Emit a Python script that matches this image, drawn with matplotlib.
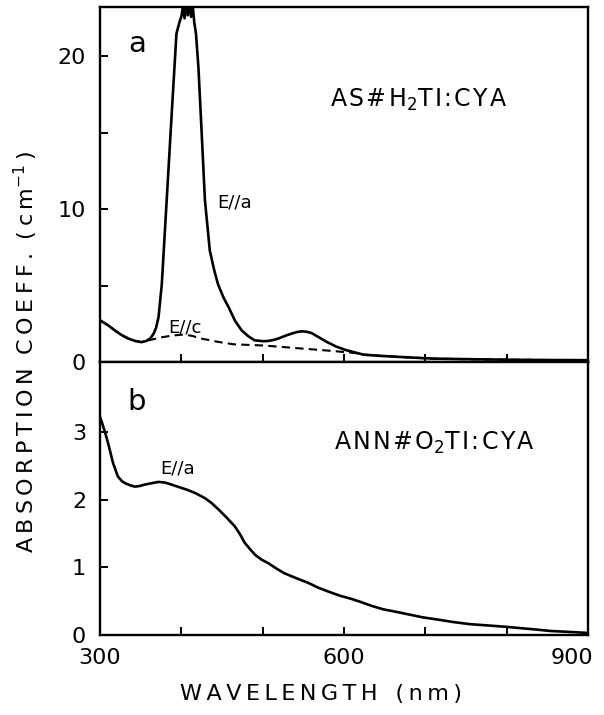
import matplotlib
matplotlib.use("Agg")
import matplotlib.pyplot as plt
import matplotlib.transforms as mtransforms

# ---------------- data ----------------
top_wl = [300, 310, 318, 326, 335, 343, 351, 357, 362, 366, 369, 372, 376, 382,
          388, 394, 398, 400, 402, 404, 406, 408, 410, 412, 414, 416, 418, 421,
          425, 429, 435, 440, 445, 452, 458, 466, 474, 482, 490, 501, 507, 514,
          520, 528, 535, 542, 548, 554, 560, 569, 579, 590, 603, 624, 645, 669,
          710, 760, 800, 850, 900]
top_a = [2.73, 2.40, 2.08, 1.78, 1.53, 1.38, 1.30, 1.38, 1.55, 1.86, 2.25, 2.95,
         5.1, 10.6, 16.1, 21.5, 22.3, 22.6, 23.3, 22.5, 23.4, 22.7, 23.5, 22.6,
         23.3, 22.2, 21.5, 19.3, 15.0, 10.6, 7.3, 6.1, 5.1, 4.2, 3.6, 2.7, 2.08,
         1.70, 1.42, 1.36, 1.38, 1.45, 1.55, 1.72, 1.85, 1.96, 2.01, 1.98, 1.90,
         1.62, 1.31, 1.02, 0.77, 0.48, 0.40, 0.33, 0.22, 0.18, 0.15, 0.13, 0.12]

top_c_wl = [300, 310, 318, 326, 335, 343, 351, 362, 376, 390, 404, 414, 423,
            445, 464, 482, 501, 525, 548, 575, 599, 615, 624, 645, 669, 710,
            760, 800, 850, 900]
top_c = [2.73, 2.40, 2.08, 1.78, 1.53, 1.38, 1.30, 1.45, 1.62, 1.74, 1.80, 1.70,
         1.55, 1.32, 1.16, 1.12, 1.08, 0.98, 0.88, 0.77, 0.66, 0.58, 0.48, 0.40,
         0.33, 0.22, 0.18, 0.15, 0.13, 0.12]

bot_wl = [300, 302, 306, 310, 316, 322, 327, 331, 337, 343, 349, 355, 363, 372,
          380, 388, 398, 408, 418, 429, 437, 446, 456, 466, 472, 478, 485, 491,
          499, 507, 517, 527, 541, 556, 568, 581, 595, 610, 620, 634, 648, 665,
          681, 697, 714, 735, 755, 778, 800, 818, 837, 853, 870, 886, 900]
bot_a = [3.22, 3.15, 3.00, 2.83, 2.54, 2.34, 2.27, 2.24, 2.21, 2.19, 2.20, 2.22,
         2.24, 2.26, 2.25, 2.22, 2.18, 2.14, 2.09, 2.02, 1.95, 1.85, 1.73, 1.60,
         1.49, 1.36, 1.26, 1.18, 1.11, 1.06, 0.98, 0.91, 0.84, 0.77, 0.70, 0.64,
         0.58, 0.53, 0.49, 0.43, 0.38, 0.34, 0.30, 0.26, 0.23, 0.19, 0.16, 0.14,
         0.12, 0.10, 0.08, 0.06, 0.05, 0.04, 0.03]

x_major = [300, 600, 900]
x_minor = [400, 500, 700, 800]
top_yticks = [0, 10, 20]
top_yminor = [5, 15]
bot_yticks = [0, 1, 2, 3]

# ---------------- figure ----------------
plt.rcParams['font.family'] = ['DejaVu Sans']
plt.rcParams['mathtext.fontset'] = 'custom'
plt.rcParams['mathtext.rm'] = 'DejaVu Sans'
plt.rcParams['mathtext.it'] = 'DejaVu Sans'
plt.rcParams['mathtext.bf'] = 'DejaVu Sans'

fig = plt.figure(figsize=(6.04, 7.15), dpi=100)
L, W = 100 / 604, 488 / 604
ax1 = fig.add_axes([L, 1 - 362 / 715, W, 355 / 715])
ax2 = fig.add_axes([L, 1 - 635 / 715, W, 273 / 715])

lw = 1.9
ax1.plot(top_wl, top_a, color='black', lw=lw, solid_joinstyle='round')
ax1.plot(top_c_wl, top_c, color='black', lw=1.5, ls=(0, (4, 2.5)))
ax2.plot(bot_wl, bot_a, color='black', lw=lw, solid_joinstyle='round')

ax1.set_xlim(300, 900)
ax1.set_ylim(0, 23.24)
ax2.set_xlim(300, 900)
ax2.set_ylim(0, 4.03)

for ax in (ax1, ax2):
    for s in ax.spines.values():
        s.set_linewidth(1.7)
    ax.set_xticks(x_major)
    ax.set_xticks(x_minor, minor=True)
    ax.tick_params(axis='both', which='both', direction='in', length=6,
                   width=1.4, labelsize=16)
    ax.tick_params(axis='x', pad=9)
    ax.tick_params(axis='y', pad=10)

ax1.set_yticks(top_yticks)
ax1.set_yticks(top_yminor, minor=True)
ax1.set_xticklabels([])
ax2.set_yticks(bot_yticks)
ax2.set_xticklabels([str(v) for v in x_major])

# shift the 900 label left so it fits the figure
offset = mtransforms.ScaledTranslation(-16 / 100, 0, fig.dpi_scale_trans)
lab900 = ax2.get_xticklabels()[-1]
lab900.set_transform(lab900.get_transform() + offset)

# ---------------- annotations ----------------
ax1.text(346, 20.8, 'a', fontsize=21, ha='center', va='center')
ax2.text(345, 3.44, 'b', fontsize=21, ha='center', va='center')

hs = '\u200a'
ax1.text(692, 16.7, hs.join('AS#H') + r'$_2$' + hs.join('TI:CYA'),
         fontsize=17, ha='center', va='baseline')
ax2.text(711, 2.73, hs.join('ANN#O') + r'$_2$' + hs.join('TI:CYA'),
         fontsize=17, ha='center', va='baseline')

ax1.text(444, 10.1, 'E//a', fontsize=13, ha='left', va='baseline')
ax1.text(384, 1.95, 'E//c', fontsize=13, ha='left', va='baseline')
ax2.text(374, 2.38, 'E//a', fontsize=13, ha='left', va='baseline')

ts = '\u2009'
ylab = ts.join('ABSORPTION') + ts * 3 + ts.join('COEFF.') + ts * 3 + ts.join('(cm') + r'$^{-1}$' + ts + ')'
fig.text(26 / 604, 1 - 352 / 715, ylab, rotation=90, fontsize=16,
         ha='center', va='center')
xlab = ts.join('WAVELENGTH') + ts * 4 + ts.join('(nm)')
fig.text(321 / 604, 1 - 694 / 715, xlab, fontsize=16, ha='center', va='center')

fig.savefig('out.png', dpi=100)
